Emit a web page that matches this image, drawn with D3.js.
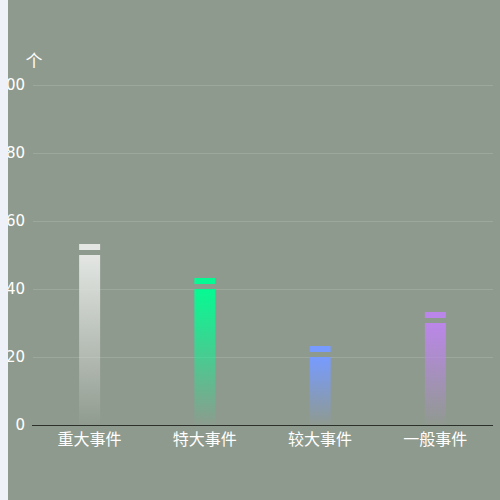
<!DOCTYPE html>
<html>
<head>
<meta charset="utf-8">
<script src="https://cdn.jsdelivr.net/npm/d3@7"></script>
<style>
  body { margin: 0; background: #8f9a8e; }
  svg { display: block; }
</style>
</head>
<body>
<div id="chart"></div>
<script>
// data
var categories = ["重大事件", "特大事件", "较大事件", "一般事件"];
var values = [50, 40, 20, 30];
var barColors = ["#e3e6e3", "#05fa93", "#779bff", "#bb86e9"];
var yTicks = [0, 20, 40, 60, 80, 100];

var width = 500, height = 500;
var plotLeft = 32, plotRight = 493, plotTop = 85, plotBottom = 425;

var svg = d3.select("#chart").append("svg")
  .attr("width", width)
  .attr("height", height);

svg.append("rect")
  .attr("width", width).attr("height", height)
  .attr("fill", "#8f9a8e");

var x = d3.scaleBand().domain(categories).range([plotLeft, plotRight]);
var y = d3.scaleLinear().domain([0, 100]).range([plotBottom, plotTop]);

// gradients for each bar
var defs = svg.append("defs");
barColors.forEach(function(c, i) {
  var g = defs.append("linearGradient")
    .attr("id", "grad" + i)
    .attr("x1", 0).attr("y1", 0).attr("x2", 0).attr("y2", 1);
  g.append("stop").attr("offset", "0%").attr("stop-color", c).attr("stop-opacity", 1);
  g.append("stop").attr("offset", "100%").attr("stop-color", c).attr("stop-opacity", 0.02);
});

// grid lines
svg.append("g")
  .selectAll("line")
  .data(yTicks.slice(1))
  .enter().append("line")
  .attr("x1", plotLeft + 1).attr("x2", plotRight)
  .attr("y1", function(d) { return y(d) + 0.5; })
  .attr("y2", function(d) { return y(d) + 0.5; })
  .attr("stroke", "rgba(255,255,255,0.13)")
  .attr("stroke-width", 1);

// y labels
svg.append("g")
  .selectAll("text")
  .data(yTicks)
  .enter().append("text")
  .attr("x", 25)
  .attr("y", function(d) { return y(d); })
  .attr("dy", "0.35em")
  .attr("text-anchor", "end")
  .attr("fill", "#ffffff")
  .style("font-family", "'DejaVu Sans', sans-serif")
  .style("font-size", "15px")
  .text(function(d) { return d; });

// unit
svg.append("text")
  .attr("x", 34).attr("y", 61)
  .attr("dy", "0.35em")
  .attr("text-anchor", "middle")
  .attr("fill", "#ffffff")
  .style("font-family", "'Noto Sans CJK SC', sans-serif")
  .style("font-size", "17px")
  .text("个");

var barW = 21;
var data = categories.map(function(c, i) {
  return { name: c, value: values[i], index: i };
});

// bars
svg.append("g")
  .selectAll("rect")
  .data(data)
  .enter().append("rect")
  .attr("x", function(d) { return x(d.name) + x.bandwidth() / 2 - barW / 2; })
  .attr("y", function(d) { return y(d.value); })
  .attr("width", barW)
  .attr("height", function(d) { return plotBottom - y(d.value); })
  .attr("fill", function(d) { return "url(#grad" + d.index + ")"; });

// caps
svg.append("g")
  .selectAll("rect")
  .data(data)
  .enter().append("rect")
  .attr("x", function(d) { return x(d.name) + x.bandwidth() / 2 - barW / 2; })
  .attr("y", function(d) { return y(d.value) - 11; })
  .attr("width", barW)
  .attr("height", 6)
  .attr("fill", function(d) { return barColors[d.index]; });

// x axis line
svg.append("line")
  .attr("x1", plotLeft).attr("x2", plotRight)
  .attr("y1", plotBottom + 0.5).attr("y2", plotBottom + 0.5)
  .attr("stroke", "#2b302b")
  .attr("stroke-width", 1);

// x labels
svg.append("g")
  .selectAll("text")
  .data(categories)
  .enter().append("text")
  .attr("x", function(d) { return x(d) + x.bandwidth() / 2; })
  .attr("y", 439)
  .attr("dy", "0.35em")
  .attr("text-anchor", "middle")
  .attr("fill", "#ffffff")
  .style("font-family", "'Noto Sans CJK SC', sans-serif")
  .style("font-size", "16px")
  .text(function(d) { return d; });

// left strip
svg.append("rect")
  .attr("x", 0).attr("y", 0)
  .attr("width", 8).attr("height", height)
  .attr("fill", "#eef1f8");
</script>
</body>
</html>
